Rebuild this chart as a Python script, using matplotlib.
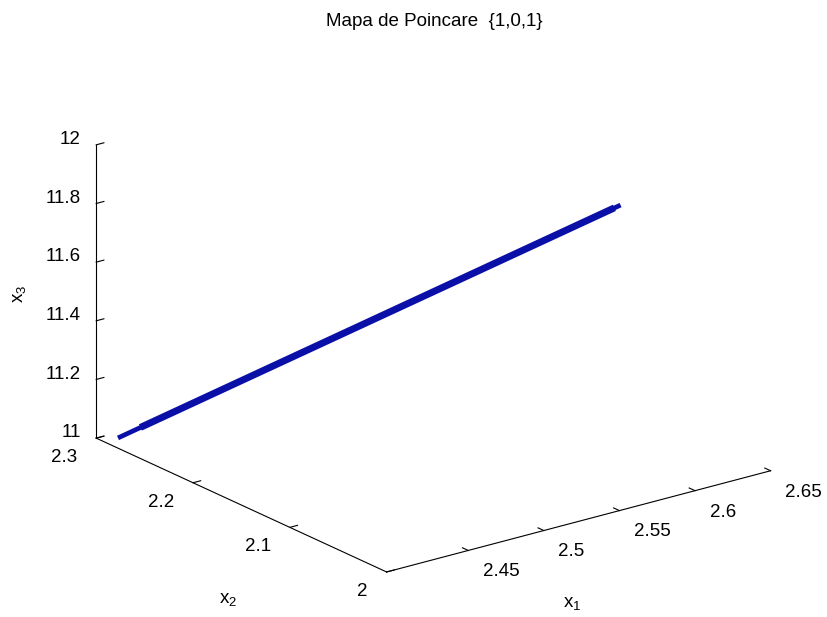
import matplotlib
matplotlib.use("Agg")
import matplotlib.pyplot as plt

plt.rcParams['font.family'] = ['Liberation Sans', 'DejaVu Sans']
plt.rcParams['mathtext.fontset'] = 'custom'
plt.rcParams['mathtext.rm'] = 'Liberation Sans'
plt.rcParams['mathtext.it'] = 'Liberation Sans'

# points on the Poincare section
x1 = [2.404, 2.65]
x2 = [2.29, 2.155]
x3 = [11.005, 11.67]

# the dense part of the band
x1_band = [2.415, 2.647]
x2_band = [2.284, 2.1567]
x3_band = [11.035, 11.662]

x1_ticks = [2.45, 2.5, 2.55, 2.6, 2.65]
x2_ticks = [2.0, 2.1, 2.2, 2.3]
x3_ticks = [11.0, 11.2, 11.4, 11.6, 11.8, 12.0]

fs = 13.5
blue = '#0a0fa8'

fig = plt.figure(figsize=(8.27, 6.17), dpi=100)
ax = fig.add_axes([0.015, 0.039, 1.0, 0.9], projection='3d')
ax.set_proj_type('ortho')
ax.view_init(elev=20.4, azim=-127.1)
ax.set_box_aspect((1, 1, 0.65), zoom=1.31)

l1, = ax.plot(x1, x2, x3, color=blue, lw=3.4, solid_capstyle='butt')
l2, = ax.plot(x1_band, x2_band, x3_band, color=blue, lw=5.0, solid_capstyle='butt')
# 3d axes clip to a square box, which would cut the left end
l1.set_clip_on(False)
l2.set_clip_on(False)

ax.set_xlim(2.396, 2.65)
ax.set_ylim(2.0, 2.3)
ax.set_zlim(11.0, 12.0)
ax.set_xticks(x1_ticks)
ax.set_xticklabels(['2.45', '2.5', '2.55', '2.6', '2.65'])
ax.set_yticks(x2_ticks)
ax.set_yticklabels(['2', '2.1', '2.2', '2.3'])
ax.set_zticks(x3_ticks)
ax.set_zticklabels(['11', '11.2', '11.4', '11.6', '11.8', '12'])

ax.grid(False)
for axis in (ax.xaxis, ax.yaxis, ax.zaxis):
    axis.set_pane_color((1, 1, 1, 0))
    axis.line.set_color('black')
    axis.line.set_linewidth(0.8)
    axis._axinfo['tick']['inward_factor'] = 0.0
    axis._axinfo['tick']['outward_factor'] = 0.25
    axis.set_tick_params(labelsize=fs, colors='black')

ax.xaxis.set_tick_params(pad=2.4)
ax.yaxis.set_tick_params(pad=2.2)
ax.zaxis.set_tick_params(pad=-3.2)

for t in ax.get_zticklabels():
    t.set_ha('right')
    t.set_va('baseline')
for t in ax.get_xticklabels():
    t.set_ha('left')
    t.set_va('center')
for t in ax.get_yticklabels():
    t.set_ha('right')
    t.set_va('center')

# axis labels placed as plain text
fig.text(572 / 827, 1 - 603 / 617, 'x$_1$', ha='center', va='center', fontsize=fs)
fig.text(228 / 827, 1 - 600 / 617, 'x$_2$', ha='center', va='center', fontsize=fs)
fig.text(20 / 827, 1 - 294 / 617, 'x$_3$', ha='center', va='center', fontsize=fs, rotation=90)

fig.text(434 / 827, 1 - 21 / 617, 'Mapa de Poincare  {1,0,1}', ha='center', va='center', fontsize=fs)

fig.savefig('out.png', dpi=100)
